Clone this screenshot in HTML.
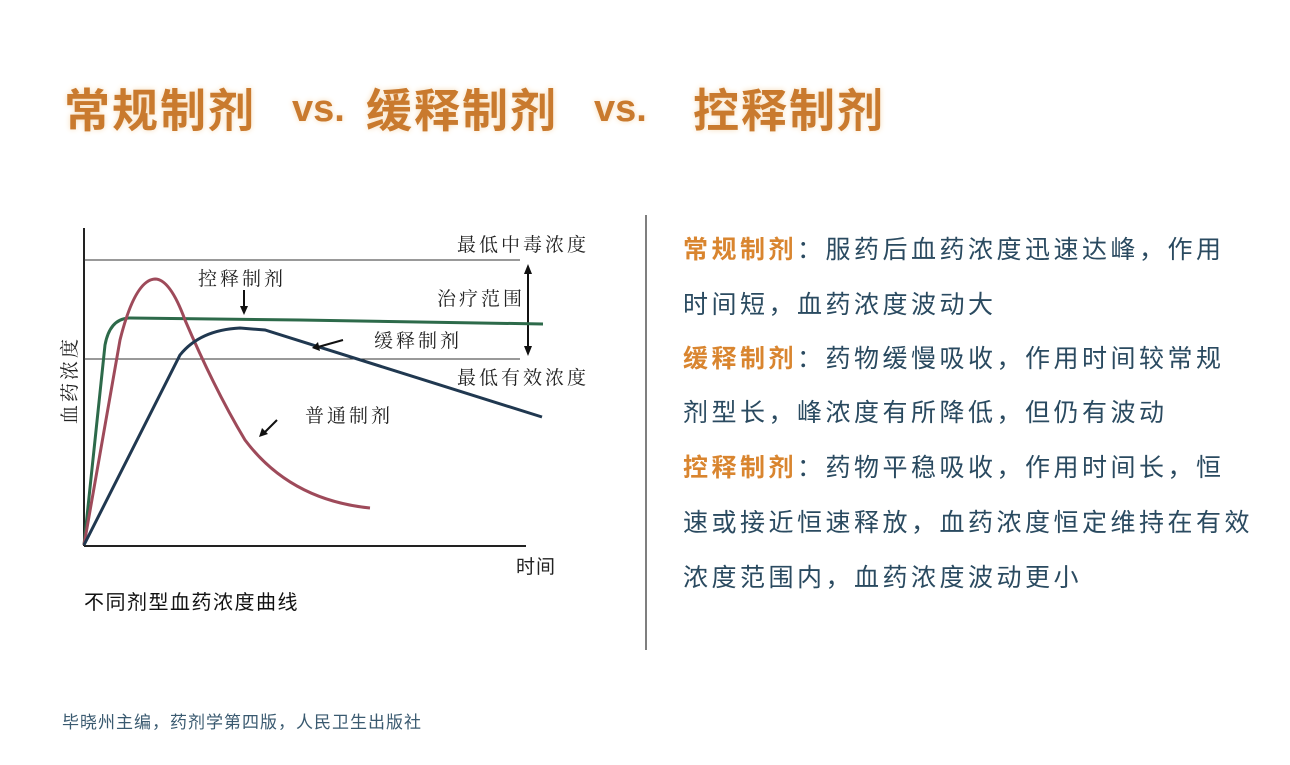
<!DOCTYPE html>
<html><head><meta charset="utf-8"><style>
html,body{margin:0;padding:0;background:#fff;}
body{width:1290px;height:765px;position:relative;overflow:hidden;font-family:"Liberation Sans","Noto Sans CJK SC",sans-serif;}
.t{position:absolute;white-space:nowrap;}
.title{color:#c97a2e;font-weight:bold;font-size:46px;top:75px;text-shadow:0 0 6px #f6dcb8;}
.vs{font-size:38px;top:88px;font-weight:bold;}
.r{left:683px;font-size:25px;letter-spacing:3.5px;color:#2a4a60;}
.o{color:#d9852f;font-weight:bold;}
</style></head><body>
<div class="t title" style="left:64px;letter-spacing:2px">常规制剂</div>
<div class="t title vs" style="left:292px">vs.</div>
<div class="t title" style="left:366px;letter-spacing:2px">缓释制剂</div>
<div class="t title vs" style="left:594px">vs.</div>
<div class="t title" style="left:693px;letter-spacing:2px">控释制剂</div>

<svg style="position:absolute;left:0;top:0" width="1290" height="765">
<line x1="646" y1="215" x2="646" y2="650" stroke="#555" stroke-width="1.5"/>
<line x1="84" y1="228" x2="84" y2="546" stroke="#222" stroke-width="2"/>
<line x1="84" y1="546" x2="526" y2="546" stroke="#222" stroke-width="2"/>
<line x1="84" y1="260" x2="520" y2="260" stroke="#333" stroke-width="1"/>
<line x1="84" y1="359" x2="520" y2="359" stroke="#333" stroke-width="1"/>
<line x1="528" y1="267" x2="528" y2="353" stroke="#111" stroke-width="2"/>
<path d="M524,274 L528,264 L532,274Z M524,346 L528,356 L532,346Z" fill="#111"/>
<path d="M84,545 L105,345 Q110,318 130,318 L300,320 L543,324" fill="none" stroke="#2d6a4a" stroke-width="3"/>
<path d="M84,545 L120,340 Q135,280 155,279 Q170,279 185,320 Q215,390 245,440 Q290,500 370,508" fill="none" stroke="#9e4a5a" stroke-width="3"/>
<path d="M84,545 L180,355 Q200,330 240,328 L265,330 L542,417" fill="none" stroke="#203850" stroke-width="3"/>
<line x1="244" y1="290" x2="244" y2="310" stroke="#111" stroke-width="2"/>
<path d="M240,306 L244,315 L248,306Z" fill="#111"/>
<line x1="343" y1="340" x2="318" y2="347" stroke="#111" stroke-width="2"/>
<path d="M318,342 L312,348 L320,351Z" fill="#111"/>
<line x1="277" y1="420" x2="265" y2="432" stroke="#111" stroke-width="2"/>
<path d="M262,428 L259,437 L268,434Z" fill="#111"/>
<g font-family="Liberation Serif,Noto Serif CJK SC,serif" font-size="19" fill="#222" letter-spacing="3">
<text x="457" y="251">最低中毒浓度</text>
<text x="437" y="305">治疗范围</text>
<text x="198" y="285">控释制剂</text>
<text x="374" y="347">缓释制剂</text>
<text x="457" y="384">最低有效浓度</text>
<text x="305" y="422">普通制剂</text>
<text x="516" y="573" font-family="Liberation Sans,Noto Sans CJK SC,sans-serif" letter-spacing="1">时间</text>
<text transform="translate(76,424) rotate(-90)">血药浓度</text>
</g>
<text x="84" y="609" font-size="20" fill="#111" letter-spacing="1.5" font-family="Liberation Sans,Noto Sans CJK SC,sans-serif">不同剂型血药浓度曲线</text>
<text x="62" y="728" font-size="17" fill="#3a5a70" letter-spacing="1" font-family="Liberation Sans,Noto Sans CJK SC,sans-serif">毕晓州主编，药剂学第四版，人民卫生出版社</text>
</svg>

<div class="t r" style="top:230px"><span class="o">常规制剂</span>：服药后血药浓度迅速达峰，作用</div>
<div class="t r" style="top:285px">时间短，血药浓度波动大</div>
<div class="t r" style="top:339px"><span class="o">缓释制剂</span>：药物缓慢吸收，作用时间较常规</div>
<div class="t r" style="top:393px">剂型长，峰浓度有所降低，但仍有波动</div>
<div class="t r" style="top:448px"><span class="o">控释制剂</span>：药物平稳吸收，作用时间长，恒</div>
<div class="t r" style="top:503px">速或接近恒速释放，血药浓度恒定维持在有效</div>
<div class="t r" style="top:558px">浓度范围内，血药浓度波动更小</div>
</body></html>
